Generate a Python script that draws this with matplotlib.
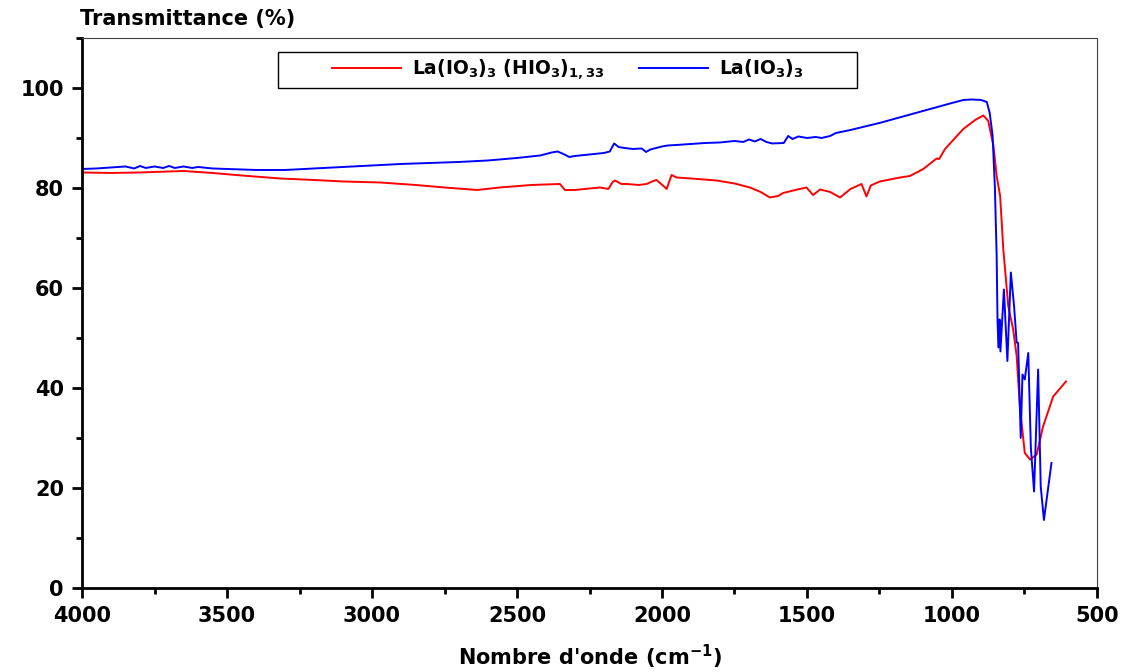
import matplotlib; matplotlib.use('Agg')
import numpy as np
import matplotlib.pyplot as plt
from matplotlib.ticker import MultipleLocator
from matplotlib.patches import Rectangle

# --- spectra (wavenumber cm-1, transmittance %) ---
wn_blue = [4000, 3950, 3900, 3850, 3820, 3800, 3780, 3750, 3720, 3700, 3680, 3650, 3620, 3600,
           3550, 3500, 3400, 3300, 3200, 3100, 3000, 2900, 2800, 2700, 2600, 2500, 2420, 2380,
           2360, 2340, 2320, 2300, 2250, 2200, 2180, 2165, 2150, 2130, 2100, 2070, 2055, 2040,
           2020, 2000, 1980, 1950, 1900, 1850, 1800, 1750, 1720, 1700, 1680, 1660, 1640, 1620,
           1580, 1565, 1550, 1530, 1500, 1470, 1450, 1420, 1400, 1350, 1300, 1250, 1200, 1150,
           1100, 1050, 1000, 960, 930, 900, 880, 870, 860, 852, 846, 843, 840, 836, 833, 821,
           809, 797, 786, 777, 772, 763, 757, 749, 737, 728, 717, 703, 694, 683, 657]
t_blue = [83.8, 83.9, 84.1, 84.3, 83.9, 84.4, 84.0, 84.3, 84.0, 84.4, 84.0, 84.3, 84.0, 84.2,
          83.9, 83.8, 83.6, 83.6, 83.9, 84.2, 84.5, 84.8, 85.0, 85.2, 85.5, 86.0, 86.5, 87.1,
          87.3, 86.8, 86.2, 86.4, 86.7, 87.0, 87.3, 88.9, 88.2, 88.0, 87.8, 87.9, 87.2, 87.7,
          88.0, 88.3, 88.5, 88.6, 88.8, 89.0, 89.1, 89.4, 89.2, 89.7, 89.3, 89.8, 89.2, 88.9,
          89.0, 90.4, 89.8, 90.3, 90.0, 90.2, 90.0, 90.4, 91.0, 91.6, 92.3, 93.0, 93.8, 94.6,
          95.4, 96.2, 97.0, 97.6, 97.7, 97.6, 97.2, 95.0, 90.5, 80.0, 66.4, 53.7, 48.1, 53.7, 47.3, 59.7,
          45.4, 63.1, 56.4, 49.1, 49.0, 30.0, 42.7, 41.7, 47.0, 28.0, 19.3, 43.7, 20.3, 13.6, 25.0]

wn_red = [4000, 3900, 3800, 3700, 3650, 3600, 3550, 3450, 3317, 3200, 3100, 2972, 2850, 2750,
          2638, 2559, 2450, 2352, 2335, 2300, 2250, 2214, 2185, 2170, 2162, 2140, 2122, 2080,
          2053, 2030, 2019, 1995, 1984, 1967, 1950, 1900, 1812, 1750, 1697, 1660, 1628, 1600,
          1582, 1540, 1502, 1479, 1455, 1420, 1386, 1350, 1312, 1295, 1280, 1249, 1179, 1145,
          1099, 1053, 1044, 1024, 961, 920, 892, 875, 857, 846, 834, 823, 806, 789, 777, 766,
          749, 731, 708, 686, 651, 607]
t_red = [83.1, 83.0, 83.1, 83.3, 83.4, 83.2, 83.0, 82.5, 81.9, 81.6, 81.3, 81.1, 80.6, 80.1,
         79.6, 80.1, 80.6, 80.8, 79.6, 79.6, 79.9, 80.1, 79.8, 81.2, 81.5, 80.8, 80.8, 80.6,
         80.8, 81.4, 81.6, 80.4, 79.8, 82.6, 82.1, 81.9, 81.5, 80.9, 80.1, 79.2, 78.1, 78.4,
         79.0, 79.6, 80.1, 78.6, 79.7, 79.2, 78.1, 79.8, 80.8, 78.3, 80.5, 81.3, 82.1, 82.4,
         83.8, 85.9, 85.8, 87.8, 91.8, 93.6, 94.5, 93.4, 88.4, 82.4, 78.4, 67.7, 56.4, 51.7, 46.4, 36.3,
         27.0, 25.7, 26.7, 32.3, 38.3, 41.3]

label_red = r'La(IO$_3$)$_3$ (HIO$_3$)$_{1,33}$'
label_blue = r'La(IO$_3$)$_3$'

plt.rcParams['font.family'] = ['DejaVu Sans']
plt.rcParams['font.weight'] = 'bold'
plt.rcParams['mathtext.default'] = 'bf'

fig = plt.figure(figsize=(11.25, 6.72), dpi=100)
ax = fig.add_axes([0.0729, 0.125, 0.9022, 0.8185])

ax.plot(wn_red, t_red, color='#ff0000', lw=1.4, label=label_red)
ax.plot(wn_blue, t_blue, color='#0000ff', lw=1.4, label=label_blue)

ax.set_xlim(4000, 500)
ax.set_ylim(0, 110)
ax.xaxis.set_major_locator(MultipleLocator(500))
ax.xaxis.set_minor_locator(MultipleLocator(250))
ax.yaxis.set_minor_locator(MultipleLocator(10))
ax.set_yticks([0, 20, 40, 60, 80, 100])

for s in ['left', 'bottom']:
    ax.spines[s].set_linewidth(2.0)
    ax.spines[s].set_color('black')
for s in ['top', 'right']:
    ax.spines[s].set_linewidth(0.8)
    ax.spines[s].set_color('#444444')

ax.tick_params(which='major', direction='out', length=7, width=2, labelsize=15, pad=6)
ax.tick_params(which='minor', direction='out', length=4, width=2)
ax.tick_params(top=False, right=False, which='both')
for lab in ax.get_xticklabels() + ax.get_yticklabels():
    lab.set_fontweight('bold')

ax.set_xlabel(r"Nombre d'onde (cm$^{\mathbf{-1}}$)", fontsize=15, fontweight='bold', labelpad=12)
fig.text(0.071, 0.972, 'Transmittance (%)', fontsize=15, fontweight='bold', ha='left', va='center')

# legend box (wider than its content, as in the original)
box = Rectangle((0.193, 0.909), 0.571, 0.0655, transform=ax.transAxes, fill=True,
                facecolor='white', edgecolor='black', lw=1.0, zorder=4)
ax.add_patch(box)
leg = ax.legend(loc='center', bbox_to_anchor=(0.4787, 0.9418), ncol=2, frameon=False,
                handlelength=3.7, handletextpad=0.6, columnspacing=1.8,
                prop={'weight': 'bold', 'size': 13.5})
leg.set_zorder(5)

fig.savefig('out.png', dpi=100)
